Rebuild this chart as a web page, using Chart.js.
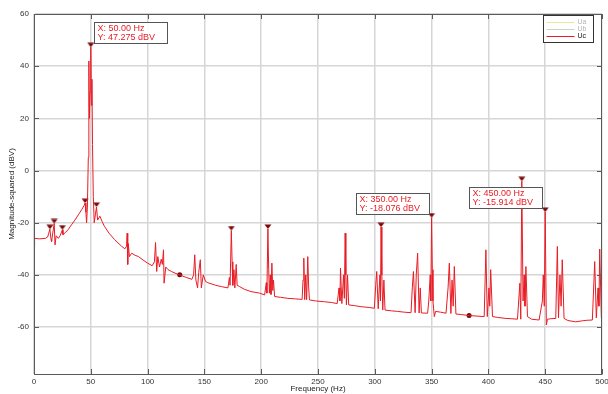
<!DOCTYPE html>
<html>
<head>
<meta charset="utf-8">
<script src="https://cdn.jsdelivr.net/npm/chart.js@4.4.0/dist/chart.umd.min.js"></script>
<style>
    html, body { margin: 0; padding: 0; background: #fff; }
    #wrap { width: 608px; height: 394px; }
</style>
</head>
<body>
<div id="wrap"><canvas id="spectrum"></canvas></div>
<script>
// --- 1. DATA ---
const freqHz = [
    0, 0.5, 5, 10, 12, 13, 14, 15, 15.5, 16.5, 17.8, 18.5, 19.5, 21.4, 23, 25, 25.5, 28, 30, 33,
    36, 39, 42, 44, 45, 45.7, 46.3, 47, 47.8, 48.3, 48.8, 49.3, 50, 50.5, 51, 51.5, 52.2, 53, 54, 55,
    56, 58, 60, 62, 66, 71, 77, 80, 81.5, 82, 82.5, 83, 84, 86, 89, 92, 96, 100, 104, 106,
    107, 108, 109, 110.5, 112, 113, 114, 114.5, 116, 118, 121, 125, 128.3, 134, 139, 140.5, 141.5, 142.5, 144, 145,
    146.4, 147.3, 149, 151, 153, 160, 165, 170.7, 172, 172.6, 173.7, 174.4, 175, 176, 176.8, 178, 178.8, 181, 185, 191,
    198.6, 203, 204.5, 205, 205.9, 206.6, 207.2, 208, 208.6, 209.4, 210.2, 210.8, 211.8, 217, 223.5, 230, 236, 236.8, 237.5, 238.3,
    239.2, 240, 241, 241.8, 242.5, 248, 255.7, 262, 266.9, 268.5, 269.3, 269.8, 271, 272.5, 273.2, 273.9, 274.5, 275, 276, 277,
    282, 288, 295, 299.6, 300.8, 301.7, 303, 304.5, 305, 305.5, 306.2, 307, 308, 309, 315, 320, 326, 331.9, 333, 334,
    335.5, 336.5, 337.7, 339, 340, 341, 346.5, 347.5, 348.8, 349.3, 350, 350.6, 351.2, 352.4, 353.5, 358, 362.7, 364.5, 365.6, 367,
    368, 369, 370, 371.4, 376, 383, 390, 396.3, 397.8, 399, 400.5, 401.2, 402, 403.6, 408, 415.4, 420, 425.6, 427.7, 428.5,
    429.4, 430.5, 431.5, 432.2, 433, 434.4, 438, 444.6, 447.5, 448.3, 449.2, 450, 451, 452, 455, 459.3, 460.7, 461.7, 463, 464,
    465, 466.6, 470, 476.9, 482.7, 487, 491.5, 493.6, 495, 496.5, 497.3, 498, 499.4, 500
];
const magDbv = [
    -29, -26, -26.2, -26, -25.5, -24, -22.5, -26.5, -27.2, -24, -20.3, -28.5, -25, -26, -25, -22.7, -24.6, -23.6, -22.7, -20.8,
    -19, -17, -15, -13.5, -12.5, -16, -20, -14, 5, 42, 20, 30, 47.275, 25, 35, 10, -10, -20, -17, -14,
    -19, -17.5, -19.6, -21.4, -24, -26.5, -29, -30, -29, -24, -36, -28, -33, -31.7, -32.5, -33, -34.3, -35.5, -36.5, -35,
    -27.6, -38.7, -33, -37, -34, -36, -30.4, -43.2, -37, -38, -38.7, -39.5, -40, -41, -41.7, -40, -32.3, -42, -45, -39,
    -34.2, -45, -40, -42.5, -43, -44, -44.5, -45, -41, -44, -23, -35, -44, -38, -45, -36, -44, -44.5, -45.5, -46.4,
    -47, -47.7, -43, -47, -22.4, -38, -47, -40, -47.5, -35.5, -46, -42, -48.3, -48.6, -49, -49.2, -49.4, -42, -33.6, -49.5,
    -40, -49.5, -33, -45, -49.6, -50, -50.3, -50.6, -51, -45, -50, -37.4, -51, -40, -49, -24, -40, -51.5, -40, -51.5,
    -51.8, -52.2, -52.5, -52.8, -44, -38.7, -53, -40, -50, -21.7, -40, -53.5, -42, -53.5, -53.8, -54, -54.3, -54.5, -45, -38.7,
    -54.5, -40, -31.7, -54.6, -45, -54.6, -54.7, -50, -40, -50, -18.076, -38, -50, -56, -54, -54.3, -54.7, -45, -35.5, -54.8,
    -42, -52, -36.8, -55, -55.2, -55.6, -55.8, -56, -30.4, -56, -45, -52, -38, -56, -56.3, -56.7, -56.8, -57, -43.2, -57,
    -4.1, -50, -40, -52, -36.8, -56, -57, -57.3, -50, -40, -52, -15.914, -59.2, -57, -56.8, -56.7, -29.1, -56.5, -40, -52,
    -34.2, -56.7, -57.5, -58, -57.6, -57.4, -57.3, -34.9, -56.5, -45, -52, -30.1, -56, -60
];

// data tip markers (triangles) and cursor dots
const peakFreq = [14, 17.8, 25, 45, 50, 55, 173.7, 205.9, 305.5, 350, 429.4, 450];
const peakMag = [-22.5, -20.3, -22.7, -12.5, 47.275, -14, -23, -22.4, -21.7, -18.076, -4.1, -15.914];
const cursorFreq = [128.3, 383];
const cursorMag = [-40, -55.6];

// data tips with text
const tipFreq = [50, 350, 450];
const tipMag = [47.275, -18.076, -15.914];
const tipSide = ['right', 'left', 'left'];

const seriesNames = ['Ua', 'Ub', 'Uc'];
const xTicks = [0, 50, 100, 150, 200, 250, 300, 350, 400, 450, 500];
const xTickLabels = ['0', '50', '100', '150', '200', '250', '300', '350', '400', '450', '500'];
const yTicks = [-60, -40, -20, 0, 20, 40, 60];
const yTickLabels = ['-60', '-40', '-20', '0', '20', '40', '60'];

// --- 2. STYLE ---
const FONT = "'Liberation Sans', Arial, sans-serif";
const RED = 'rgb(232, 28, 36)';
const DARK_RED = 'rgb(120, 8, 10)';
const GRID = '#d6d6d6';
const AXIS = '#5a5a5a';

// downward triangle whose tip sits on the data point
function makeTriangle() {
    const c = document.createElement('canvas');
    c.width = 10; c.height = 10;
    const g = c.getContext('2d');
    g.fillStyle = DARK_RED;
    g.beginPath();
    g.moveTo(1.5, 0.5);
    g.lineTo(8.5, 0.5);
    g.lineTo(5, 5);
    g.closePath();
    g.fill();
    return c;
}

// --- 3. PLUGIN: box, inner ticks, data tips, legend ---
const matlabAxes = {
    id: 'matlabAxes',
    afterDraw(chart) {
        const ctx = chart.ctx;
        const { left, right, top, bottom } = chart.chartArea;
        const xs = chart.scales.x, ys = chart.scales.y;

        ctx.save();
        // box + inward ticks
        ctx.strokeStyle = AXIS;
        ctx.lineWidth = 1;
        ctx.strokeRect(left + 0.5, top + 0.5, right - left - 1, bottom - top);
        ctx.beginPath();
        xTicks.forEach(v => {
            const px = Math.round(xs.getPixelForValue(v)) + 0.5;
            ctx.moveTo(px, bottom); ctx.lineTo(px, bottom - 5);
            ctx.moveTo(px, top); ctx.lineTo(px, top + 5);
        });
        yTicks.forEach(v => {
            const py = Math.round(ys.getPixelForValue(v)) + 0.5;
            ctx.moveTo(left, py); ctx.lineTo(left + 5, py);
            ctx.moveTo(right, py); ctx.lineTo(right - 5, py);
        });
        ctx.stroke();

        // data tips
        ctx.font = '9px ' + FONT;
        ctx.textBaseline = 'middle';
        ctx.textAlign = 'left';
        tipFreq.forEach((f, i) => {
            const px = xs.getPixelForValue(f);
            const py = ys.getPixelForValue(tipMag[i]);
            const w = 73, h = 21;
            const bx = Math.round(tipSide[i] === 'right' ? px + 3 : px - 3 - w) + 0.5;
            const by = Math.round(py - 4 - h) + 0.5;
            ctx.fillStyle = 'rgba(255,255,255,0.95)';
            ctx.fillRect(bx, by, w, h);
            ctx.strokeStyle = '#555';
            ctx.strokeRect(bx, by, w, h);
            ctx.fillStyle = RED;
            ctx.fillText('X: ' + f.toFixed(2) + ' Hz', bx + 3, by + 6);
            ctx.fillText('Y: ' + tipMag[i].toFixed(3) + ' dBV', bx + 3, by + 15);
        });

        // legend
        const lx = right - 58.5, ly = top + 1.5, lw = 50, lh = 27;
        ctx.fillStyle = '#fff';
        ctx.fillRect(lx, ly, lw, lh);
        ctx.strokeStyle = '#333';
        ctx.strokeRect(lx, ly, lw, lh);
        ctx.font = '7px ' + FONT;
        chart.data.datasets.filter(d => seriesNames.includes(d.label)).forEach((d, i) => {
            const rowY = ly + 7 + i * 7;
            ctx.strokeStyle = d.borderColor;
            ctx.beginPath();
            ctx.moveTo(lx + 3, rowY); ctx.lineTo(lx + 31, rowY);
            ctx.stroke();
            ctx.fillStyle = d.label === 'Uc' ? '#111' : '#b4b4b4';
            ctx.fillText(d.label, lx + 34, rowY);
        });
        ctx.restore();
    }
};

// --- 4. CHART ---
const tickFont = { family: FONT, size: 8 };

new Chart(document.getElementById('spectrum'), {
    type: 'line',
    data: {
        datasets: [
            { label: 'Ua', data: [], borderColor: 'rgb(240, 228, 150)' },
            { label: 'Ub', data: [], borderColor: 'rgb(196, 214, 196)' },
            {
                label: 'Uc',
                data: freqHz.map((f, i) => ({ x: f, y: magDbv[i] })),
                borderColor: RED,
                borderWidth: 1,
                pointRadius: 0,
                tension: 0
            },
            {
                label: 'tips',
                data: peakFreq.map((f, i) => ({ x: f, y: peakMag[i] })),
                showLine: false,
                pointStyle: makeTriangle(),
                pointRadius: 5
            },
            {
                label: 'cursors',
                data: cursorFreq.map((f, i) => ({ x: f, y: cursorMag[i] })),
                showLine: false,
                pointStyle: 'circle',
                pointRadius: 2.5,
                backgroundColor: DARK_RED,
                borderColor: DARK_RED,
                borderWidth: 0
            }
        ]
    },
    options: {
        responsive: true,
        maintainAspectRatio: false,
        animation: false,
        layout: { padding: { left: 0, right: 5, top: 14, bottom: 0 } },
        plugins: { legend: { display: false }, tooltip: { enabled: false } },
        scales: {
            x: {
                type: 'linear',
                min: 0,
                max: 500,
                afterBuildTicks: s => { s.ticks = xTicks.map(v => ({ value: v })); },
                afterFit: s => { s.height = 20; s.paddingLeft = 0; s.paddingRight = 0; },
                grid: { color: GRID, lineWidth: 1.5, drawTicks: false },
                border: { color: AXIS, width: 1 },
                ticks: {
                    padding: 3, maxRotation: 0, autoSkip: false, color: '#333', font: tickFont,
                    callback: v => xTickLabels[xTicks.indexOf(v)]
                },
                title: {
                    display: true, text: 'Frequency (Hz)', color: '#222', font: tickFont,
                    padding: { top: 0, bottom: 0 }
                }
            },
            y: {
                type: 'linear',
                min: -78,
                max: 60,
                afterBuildTicks: s => { s.ticks = yTicks.map(v => ({ value: v })); },
                afterFit: s => { s.width = 34; s.paddingTop = 0; s.paddingBottom = 0; },
                grid: { color: GRID, lineWidth: 1.5, drawTicks: false },
                border: { color: AXIS, width: 1 },
                ticks: {
                    padding: 5, color: '#333', font: tickFont,
                    callback: v => yTickLabels[yTicks.indexOf(v)]
                },
                title: {
                    display: true, text: 'Magnitude-squared (dBV)', color: '#222', font: tickFont,
                    padding: { top: 7, bottom: 0 }
                }
            }
        }
    },
    plugins: [matlabAxes]
});
</script>
</body>
</html>
